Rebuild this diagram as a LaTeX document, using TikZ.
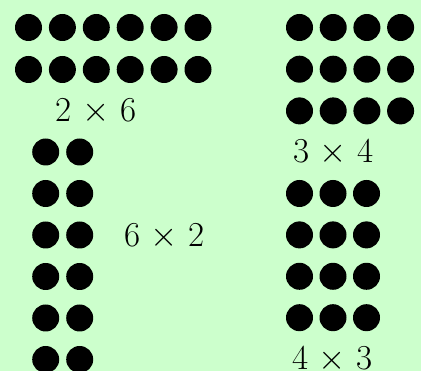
\documentclass[tikz,border=0pt]{standalone}
\usepackage{fix-cm}
\definecolor{bg}{RGB}{204,255,204}
\tikzset{
  dot/.style={circle,fill=black,draw=none,inner sep=0pt,minimum size=27pt},
  lab/.style={font=\fontsize{35}{40}\selectfont, inner sep=0pt, anchor=base}
}
\begin{document}
\begin{tikzpicture}[x=1pt,y=-1pt]
\fill[bg] (0,0) rectangle (421,371);
\useasboundingbox (0,0) rectangle (421,371);
% 2 x 6
\foreach \r in {0,1}
  \foreach \c in {0,...,5}
    \node[dot] (a-\r-\c) at ({28.5+33.9*\c},{27.5+42*\r}) {};
\node[lab] (la) at (96,122) {2 $\times$ 6};
% 3 x 4
\foreach \r in {0,1,2}
  \foreach \c in {0,...,3}
    \node[dot] (b-\r-\c) at ({299.5+33.7*\c},{27.5+41.7*\r}) {};
\node[lab] (lb) at (333.5,163) {3 $\times$ 4};
% 6 x 2
\foreach \r in {0,...,5}
  \foreach \c in {0,1}
    \node[dot] (c-\r-\c) at ({45.7+34*\c},{152+41.5*\r}) {};
\node[lab] (lc) at (164.5,247) {6 $\times$ 2};
% 4 x 3
\foreach \r in {0,...,3}
  \foreach \c in {0,1,2}
    \node[dot] (d-\r-\c) at ({299.5+33.5*\c},{193.5+41.4*\r}) {};
\node[lab] (ld) at (332.5,369.5) {4 $\times$ 3};
\end{tikzpicture}
\end{document}
